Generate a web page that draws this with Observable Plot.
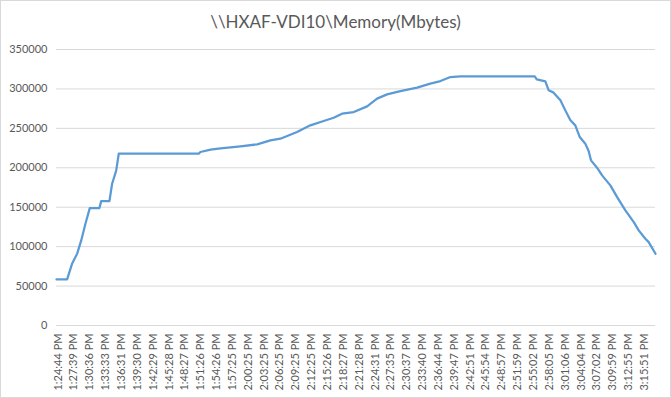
<!DOCTYPE html>
<html>
<head>
<meta charset="utf-8">
<script src="https://cdn.jsdelivr.net/npm/d3@7"></script>
<script src="https://cdn.jsdelivr.net/npm/@observablehq/plot@0.6"></script>
<style>
  html, body { margin: 0; padding: 0; background: #fff; }
  #chart {
    width: 669px; height: 396px;
    border: 1px solid #d9d9d9;
    background: #fff;
    font-family: Lato, "Open Sans", sans-serif;
    overflow: hidden;
  }
  #title {
    height: 38px; line-height: 42px;
    text-align: center;
    font-size: 17px;
    color: #595959;
  }
</style>
</head>
<body>
<div id="chart">
  <div id="title">\\HXAF-VDI10\Memory(Mbytes)</div>
</div>
<script>
// X-axis category labels (one every ~3 minutes)
const tickLabels = [
  "1:24:44 PM","1:27:39 PM","1:30:36 PM","1:33:33 PM","1:36:31 PM","1:39:30 PM",
  "1:42:29 PM","1:45:28 PM","1:48:27 PM","1:51:26 PM","1:54:26 PM","1:57:25 PM",
  "2:00:25 PM","2:03:25 PM","2:06:25 PM","2:09:25 PM","2:12:25 PM","2:15:26 PM",
  "2:18:27 PM","2:21:28 PM","2:24:31 PM","2:27:35 PM","2:30:37 PM","2:33:40 PM",
  "2:36:44 PM","2:39:47 PM","2:42:51 PM","2:45:54 PM","2:48:57 PM","2:51:59 PM",
  "2:55:02 PM","2:58:05 PM","3:01:06 PM","3:04:04 PM","3:07:02 PM","3:09:59 PM",
  "3:12:55 PM","3:15:51 PM"
];
// Position along the category axis, in label units (0 = first label)
const position = [
  -0.1, 0.57, 0.89, 1.21, 1.46, 1.73, 2.0, 2.61, 2.72, 3.24, 3.41, 3.67, 3.83,
  8.88, 8.98, 9.62, 10.25, 11.51, 12.56, 13.4, 14.03, 15.08, 15.92, 16.76, 17.39,
  17.92, 18.66, 19.5, 20.13, 20.76, 21.6, 22.66, 23.49, 24.13, 24.76, 25.39,
  30.08, 30.21, 30.75, 30.96, 31.27, 31.7, 32.01, 32.33, 32.64, 32.92, 33.27,
  33.48, 33.63, 34.01, 34.33, 34.85, 35.28, 35.8, 36.33, 36.64, 37.06, 37.27, 37.7
];
// Memory in Mbytes
const memory = [
  58400, 58400, 78700, 91400, 107900, 129400, 148900, 148900, 157700, 157700, 179800, 196700, 217900,
  218000, 220000, 223000, 224600, 227200, 229700, 234800, 236900, 245300, 253800, 259300, 263500,
  268600, 270700, 277900, 287700, 293100, 297300, 301600, 306700, 310000, 315100, 315900,
  315900, 312200, 309600, 298200, 295300, 285500, 272800, 260200, 253800, 239000, 230600,
  221200, 209400, 200100, 190400, 177700, 162800, 145900, 131100, 120600, 110000, 105700, 91000
];
const yTicks = [0, 50000, 100000, 150000, 200000, 250000, 300000, 350000];

const data = position.map((p, i) => ({x: p, y: memory[i]}));

const chart = Plot.plot({
  width: 669,
  height: 358,
  marginTop: 10,
  marginBottom: 72,
  marginLeft: 55,
  marginRight: 15,
  style: {fontFamily: "Lato, 'Open Sans', sans-serif", fontSize: "11px", color: "#595959", background: "#fff"},
  x: {domain: [-0.1, 37.7]},
  y: {domain: [0, 350000]},
  marks: [
    Plot.gridY(yTicks, {stroke: "#d9d9d9", strokeOpacity: 1, strokeWidth: 1}),
    Plot.axisY(yTicks, {tickSize: 0, tickPadding: 9, tickFormat: d3.format("d"), label: null, fill: "#595959"}),
    Plot.axisX(d3.range(tickLabels.length), {
      tickSize: 0, tickPadding: 8, tickRotate: -90,
      tickFormat: i => tickLabels[i], label: null, fill: "#595959"
    }),
    Plot.line(data, {x: "x", y: "y", stroke: "#5b9bd5", strokeWidth: 2.25, strokeLinejoin: "round"})
  ]
});
document.getElementById("chart").appendChild(chart);
</script>
</body>
</html>
